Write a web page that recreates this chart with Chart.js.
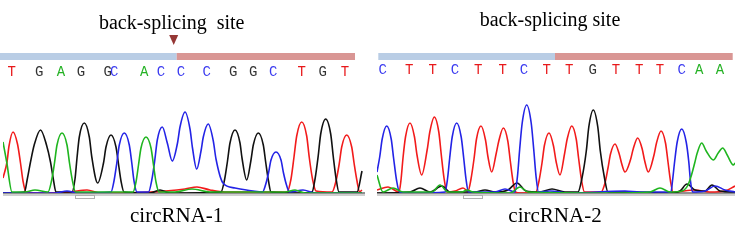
<!DOCTYPE html>
<html lang="en">
<head>
    <meta charset="UTF-8">
    <title>back-splicing site chromatograms</title>
    <script src="https://cdn.jsdelivr.net/npm/chart.js@4"></script>
    <style>
        body { margin: 0; background: #fff; }
        .panel { position: absolute; top: 0; width: 365px; height: 240px; }
    </style>
</head>
<body>
    <!-- two chromatogram panels -->
    <div class="panel" style="left: 0px;"><canvas id="c1" width="365" height="240"></canvas></div>
    <div class="panel" style="left: 370px;"><canvas id="c2" width="365" height="240"></canvas></div>
    <script>
// ---- circRNA-1 ----
const bases1 = ['T','G','A','G','G','C','A','C','C','C','G','G','C','T','G','T'];
const basePos1 = [11.7, 39.3, 61, 81, 107.7, 114.3, 144.3, 161, 181, 206.7, 233.3, 253.3, 273.3, 301.7, 322.7, 345];
const segment1 = [0, 176.7, 355];   // start, back-splicing site, end
const traceA1 = [[3,51],[6.7,31],[12,1],[25,1],[35,3],[48,1],[51.5,12],[54.5,30],[57,48],[62,60],[67,48],[69.5,30],[72.5,12],[75.5,1],[100,1],[133,1],[136,11],[138.5,28],[141,45],[146,56],[151,45],[153.5,28],[156,11],[159,1],[175,1],[192,4],[210,1],[285,1],[295,3],[305,0],[362,0]];
const traceC1 = [[3,0],[55,0],[67,2],[78,0],[111,1],[114,12],[116.8,30],[119.3,48],[124.3,60],[129.3,48],[131.8,30],[134,12],[137,1],[148.5,1],[151.8,13],[154.8,33],[157.3,53],[162.3,66],[167.3,50],[172.3,32],[177.5,50],[180,66],[185,81],[190,64],[192.5,45],[196.7,24],[201,42],[203.3,56],[208.3,69],[213.3,52],[216,34],[223,10],[235,5],[253,2],[262.5,1],[265.5,8],[268.5,20],[271,33],[276,41],[281,33],[283.5,20],[286.5,8],[289.5,1],[303,3],[315,0],[362,0]];
const traceG1 = [[3,0],[24.5,1],[27.3,14],[30.5,31],[34.2,48],[40.5,63],[46.5,48],[50.5,31],[53.3,14],[56,1],[72,1],[75,14],[77,35],[79.3,56],[84.3,70],[89.3,56],[91.8,36],[97.7,10],[103.5,30],[106,46],[111,58],[116,46],[118.5,29],[121,12],[124,1],[150,0],[160,3],[170,0],[221,1],[224.5,13],[227.5,32],[230,50],[235,63],[240,50],[242,35],[246.7,13],[251,33],[253.3,48],[258.3,60],[263.3,48],[265.8,30],[268.5,12],[271,1],[300,0],[312,1],[315.2,15],[318.2,37],[320.7,59],[325.7,74],[330.7,59],[333.2,37],[336,15],[339,1],[357,1],[362,22]];
const traceT1 = [[3,15],[7,31],[9,47],[13,61],[17.5,49],[20.5,30],[23,12],[26,1],[40,0],[70,1],[87,3],[100,0],[150,1],[185,4],[197,6],[210,3],[225,1],[260,1],[287,1],[291,14],[294,36],[296.7,57],[301.7,71],[306.7,57],[309.2,36],[312.5,14],[316,2],[332,1],[336,12],[339.2,29],[341.7,46],[346.7,58],[351.7,46],[354.2,29],[357,12],[359.5,1],[362,3]];

// ---- circRNA-2 ----
const bases2 = ['C','T','T','C','T','T','C','T','T','G','T','T','T','C','A','A'];
const basePos2 = [12.7, 39.3, 62.7, 85, 108.3, 132.7, 154, 176.7, 199.3, 222.7, 246, 269.3, 290, 311.7, 329.3, 350];
const segment2 = [8.3, 185, 362.7];
const traceA2 = [[7,18],[13,1],[23,5],[33,1],[62,1],[70,8],[78,1],[92,1],[97,3],[103,1],[140,0],[150,6],[158,1],[240,0],[280,1],[290,5],[300,1],[312,2],[318,8],[321.5,18],[324.7,30],[327.2,40],[331.7,50],[336.2,42],[343.3,33],[348.2,40],[352.7,45],[357.2,38],[363.3,28],[365,30]];
const traceC2 = [[7,21],[9.7,36],[12.2,54],[16.7,67],[21.2,54],[23.7,34],[26.5,13],[29.5,1],[45,0],[75,1],[77.5,14],[79.7,35],[82.2,56],[86.7,70],[91.2,56],[93.7,35],[96,14],[98.5,1],[125,1],[135,4],[145,1],[147.5,17],[149.7,44],[152.2,70],[156.7,88],[161.2,70],[163.7,44],[166,17],[168.5,1],[180,2],[200,0],[255,2],[270,1],[301,1],[302.5,12],[304.7,32],[307.2,51],[311.7,64],[316.2,51],[318.7,32],[320.5,12],[322.5,1],[335,2],[345,7],[355,3],[365,1]];
const traceG2 = [[7,0],[40,1],[50,5],[60,1],[72,7],[80,1],[105,1],[115,3],[125,1],[138,3],[147,10],[156,2],[170,1],[182,4],[195,1],[208,1],[212,15],[216.3,42],[218.8,66],[223.3,83],[227.8,66],[230.3,42],[234.5,15],[238,1],[260,1],[300,0],[310,2],[317,9],[325,3],[335,2],[342,8],[350,2],[365,1]];
const traceT2 = [[7,3],[18,6],[29,1],[31,13],[33,35],[35.5,56],[40,70],[44.5,56],[47,38],[51.7,18],[57.3,44],[59.8,61],[64.3,76],[68.8,61],[71.3,38],[74,15],[77,1],[85,2],[93,5],[98,2],[101,14],[104,34],[106.5,54],[111,67],[115.5,53],[118,36],[121.7,21],[126.3,40],[128.8,52],[133.3,65],[137.8,52],[140.3,32],[142.8,13],[145.5,1],[150,0],[166,1],[169,12],[172,30],[174.5,48],[179,60],[183.5,47],[186,32],[190,18],[194.7,40],[197.2,54],[201.7,67],[206.2,54],[208.7,34],[211.5,13],[214.5,1],[231,1],[235,10],[238,25],[240.5,39],[245,49],[249.5,38],[251.5,30],[255,21],[260.7,34],[263.2,44],[267.7,55],[272.2,44],[274.5,33],[278.3,21],[284,38],[286.5,50],[291,62],[295.5,50],[298,31],[300.5,12],[303,1],[325,3],[340,1],[355,2],[365,7]];

const traceColors = { A: '#1fb51f', C: '#2323e6', G: '#111111', T: '#f21b1b' };
const letterColors = { A: '#25b225', C: '#3a3af0', G: '#333333', T: '#e8191b' };

function toXY(arr) {
    return arr.map(p => ({ x: p[0], y: p[1] }));
}

// bars, base calls, captions drawn against the x scale
const decor = {
    id: 'decor',
    beforeDatasetsDraw(chart, args, o) {
        const ctx = chart.ctx, a = chart.chartArea;
        ctx.save();
        ctx.fillStyle = '#cfcfcf';
        ctx.fillRect(a.left, a.bottom + 1, a.right - a.left, 2);
        ctx.strokeStyle = '#b0b0b0';
        ctx.lineWidth = 1;
        ctx.strokeRect(a.left + o.thumb[0] + 0.5, a.bottom + 2.5, o.thumb[1], 3);
        ctx.fillStyle = '#222';
        ctx.fillRect(a.left, a.bottom - 0.5, a.right - a.left, 1);
        ctx.restore();
    },
    afterDatasetsDraw(chart, args, o) {
        const ctx = chart.ctx, sx = chart.scales.x;
        const x0 = sx.getPixelForValue(o.segment[0]);
        const x1 = sx.getPixelForValue(o.segment[1]);
        const x2 = sx.getPixelForValue(o.segment[2]);
        ctx.save();
        // exon segments
        ctx.fillStyle = '#b9cde5';
        ctx.fillRect(x0, 53, x1 - x0, 7);
        ctx.fillStyle = '#d99694';
        ctx.fillRect(x1, 53, x2 - x1, 7);
        // arrow
        if (o.arrow) {
            ctx.fillStyle = '#953735';
            ctx.beginPath();
            ctx.moveTo(x1 - 7.5, 35);
            ctx.lineTo(x1 + 1.5, 35);
            ctx.lineTo(x1 - 3, 45);
            ctx.closePath();
            ctx.fill();
        }
        // title
        ctx.fillStyle = '#000';
        ctx.font = '20px "Liberation Serif", "Times New Roman", serif';
        ctx.textAlign = 'center';
        ctx.textBaseline = 'alphabetic';
        ctx.fillText(o.title, x1 - 5, o.titleY);
        // caption
        ctx.font = '21px "Liberation Serif", "Times New Roman", serif';
        ctx.fillText(o.label, x1, 222);
        // base calls
        ctx.font = '14px "Liberation Mono", "Courier New", monospace';
        ctx.textBaseline = 'middle';
        o.bases.forEach((b, i) => {
            ctx.fillStyle = letterColors[b];
            ctx.fillText(b, sx.getPixelForValue(o.basePos[i]), o.letterY);
        });
        ctx.restore();
    }
};

function makeChart(id, traces, xmin, padLeft, opts) {
    const ctx = document.getElementById(id).getContext('2d');
    return new Chart(ctx, {
        type: 'line',
        data: {
            datasets: ['A', 'C', 'G', 'T'].map(b => ({
                label: b,
                data: toXY(traces[b]),
                borderColor: traceColors[b],
                borderWidth: 1.6,
                pointRadius: 0,
                fill: false,
                cubicInterpolationMode: 'monotone'
            }))
        },
        options: {
            responsive: false,
            animation: false,
            layout: { padding: { top: 93, bottom: 47, left: padLeft, right: 0 } },
            scales: {
                x: { type: 'linear', min: xmin, max: 365, display: false },
                y: { min: 0, max: 100, display: false }
            },
            plugins: {
                legend: { display: false },
                tooltip: { enabled: false },
                decor: opts
            }
        },
        plugins: [decor]
    });
}

makeChart('c1', { A: traceA1, C: traceC1, G: traceG1, T: traceT1 }, 3, 3, {
    bases: bases1, basePos: basePos1, segment: segment1,
    title: 'back-splicing  site', titleY: 29, label: 'circRNA-1',
    arrow: true, letterY: 72, thumb: [72, 19]
});
makeChart('c2', { A: traceA2, C: traceC2, G: traceG2, T: traceT2 }, 7, 7, {
    bases: bases2, basePos: basePos2, segment: segment2,
    title: 'back-splicing site', titleY: 26, label: 'circRNA-2',
    arrow: false, letterY: 70, thumb: [86, 19]
});
    </script>
</body>
</html>
